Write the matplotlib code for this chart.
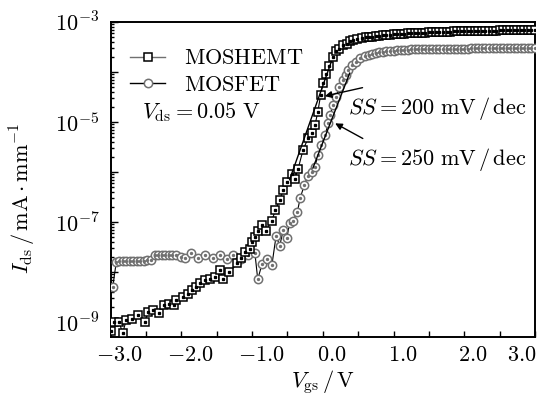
import numpy as np
import matplotlib
matplotlib.use("Agg")
import matplotlib.pyplot as plt
from matplotlib.lines import Line2D
from matplotlib.ticker import FixedLocator, FixedFormatter, LogLocator, NullFormatter
from matplotlib.transforms import ScaledTranslation

plt.rcParams['mathtext.fontset'] = 'cm'
plt.rcParams['font.family'] = 'serif'
plt.rcParams['font.serif'] = ['cmr10', 'DejaVu Serif']
plt.rcParams['axes.unicode_minus'] = False

# --- data ---
# shared saturation sweep (V)
sat_v = [0.65, 0.70, 0.75, 0.80, 0.85, 0.90, 0.95, 1.00, 1.05, 1.10, 1.15, 1.20,
         1.25, 1.30, 1.35, 1.40, 1.45, 1.50, 1.55, 1.60, 1.65, 1.70, 1.75, 1.80,
         1.85, 1.90, 1.95, 2.00, 2.05, 2.10, 2.15, 2.20, 2.25, 2.30, 2.35, 2.40,
         2.45, 2.50, 2.55, 2.60, 2.65, 2.70, 2.75, 2.80, 2.85, 2.90, 2.95, 3.00]

# MOSHEMT
hemt_v = [-2.99, -2.95, -2.88, -2.83, -2.78, -2.70, -2.62, -2.52, -2.47, -2.40,
          -2.32, -2.24, -2.17, -2.10, -2.07, -1.98, -1.91, -1.85, -1.80, -1.74,
          -1.67, -1.60, -1.53, -1.46, -1.41, -1.32, -1.21, -1.15, -1.10, -1.03,
          -1.00, -0.96, -0.91, -0.86, -0.81, -0.72, -0.67, -0.61, -0.56, -0.50,
          -0.44, -0.40, -0.35, -0.28, -0.21, -0.16, -0.11, -0.07, -0.03, 0.00,
          0.05, 0.09, 0.14, 0.18, 0.23, 0.29, 0.34, 0.38, 0.43, 0.49, 0.55, 0.61]
hemt_i = [6.5e-10, 1.0e-9, 9.8e-10, 6.0e-10, 1.1e-9, 1.17e-9, 1.38e-9, 1.02e-9, 1.55e-9, 1.74e-9,
          1.48e-9, 2.19e-9, 2.29e-9, 2.19e-9, 2.75e-9, 3.1e-9, 3.7e-9, 4.4e-9, 5.1e-9, 5.9e-9,
          6.9e-9, 7.4e-9, 8.1e-9, 1.1e-8, 7.4e-9, 1.0e-8, 1.48e-8, 1.95e-8, 2.57e-8, 2.95e-8,
          3.9e-8, 5.1e-8, 6.6e-8, 8.9e-8, 6.6e-8, 1.07e-7, 1.74e-7, 2.8e-7, 4.3e-7, 6.3e-7,
          9.3e-7, 7.2e-7, 1.15e-6, 2.75e-6, 4.7e-6, 5.9e-6, 8.7e-6, 1.62e-5, 3.5e-5, 5.9e-5,
          9.3e-5, 1.29e-4, 1.95e-4, 2.57e-4, 2.95e-4, 3.5e-4, 3.7e-4, 4.1e-4, 4.35e-4, 4.6e-4, 4.8e-4, 4.9e-4]
hemt_sat = [5.00e-4, 5.10e-4, 5.20e-4, 5.30e-4, 5.40e-4, 5.48e-4, 5.56e-4, 5.63e-4, 5.70e-4, 5.77e-4,
            5.83e-4, 5.89e-4, 5.95e-4, 6.00e-4, 6.05e-4, 6.10e-4, 6.15e-4, 6.20e-4, 6.24e-4, 6.28e-4,
            6.32e-4, 6.36e-4, 6.40e-4, 6.43e-4, 6.46e-4, 6.49e-4, 6.52e-4, 6.55e-4, 6.58e-4, 6.61e-4,
            6.63e-4, 6.65e-4, 6.67e-4, 6.69e-4, 6.71e-4, 6.73e-4, 6.75e-4, 6.77e-4, 6.79e-4, 6.81e-4,
            6.83e-4, 6.85e-4, 6.87e-4, 6.89e-4, 6.91e-4, 6.93e-4, 6.94e-4, 6.95e-4]

# MOSFET
fet_v = [-2.97, -2.92, -2.88, -2.83, -2.78, -2.73, -2.68, -2.63, -2.58, -2.53,
         -2.48, -2.43, -2.38, -2.33, -2.28, -2.23, -2.18, -2.13, -2.08, -2.00,
         -1.95, -1.86, -1.77, -1.67, -1.55, -1.46, -1.36, -1.27, -1.15, -1.06,
         -0.96, -0.92, -0.86, -0.79, -0.72, -0.66, -0.61, -0.56, -0.51, -0.47,
         -0.42, -0.36, -0.32, -0.26, -0.21, -0.16, -0.11, -0.07, -0.02, 0.03,
         0.08, 0.10, 0.15, 0.19, 0.23, 0.28, 0.33, 0.36, 0.41, 0.47, 0.52, 0.59]
fet_i = [5.1e-9, 1.62e-8, 1.64e-8, 1.66e-8, 1.66e-8, 1.68e-8, 1.66e-8, 1.67e-8, 1.68e-8, 1.69e-8,
         1.70e-8, 1.72e-8, 2.15e-8, 2.19e-8, 2.21e-8, 2.20e-8, 2.22e-8, 2.19e-8, 2.18e-8, 2.04e-8,
         1.87e-8, 2.44e-8, 1.87e-8, 2.19e-8, 1.87e-8, 2.19e-8, 1.79e-8, 2.19e-8, 1.79e-8, 2.19e-8,
         2.36e-8, 7.1e-9, 1.45e-8, 1.79e-8, 1.38e-8, 5.37e-8, 3.31e-8, 6.9e-8, 4.7e-8, 9.4e-8,
         1.07e-7, 1.6e-7, 3.0e-7, 5.6e-7, 8.3e-7, 1.0e-6, 1.28e-6, 2.2e-6, 3.5e-6, 5.5e-6,
         9.4e-6, 1.38e-5, 2.19e-5, 3.2e-5, 4.9e-5, 6.9e-5, 8.7e-5, 1.1e-4, 1.38e-4, 1.6e-4, 1.9e-4, 2.1e-4]
fet_sat = [2.20e-4, 2.30e-4, 2.39e-4, 2.47e-4, 2.54e-4, 2.60e-4, 2.65e-4, 2.69e-4, 2.73e-4, 2.76e-4,
           2.79e-4, 2.81e-4, 2.83e-4, 2.85e-4, 2.86e-4, 2.87e-4, 2.88e-4, 2.89e-4, 2.90e-4, 2.91e-4,
           2.92e-4, 2.92e-4, 2.93e-4, 2.93e-4, 2.94e-4, 2.94e-4, 2.95e-4, 2.95e-4, 2.95e-4, 2.96e-4,
           2.96e-4, 2.96e-4, 2.97e-4, 2.97e-4, 2.97e-4, 2.97e-4, 2.98e-4, 2.98e-4, 2.98e-4, 2.98e-4,
           2.99e-4, 2.99e-4, 2.99e-4, 2.99e-4, 3.00e-4, 3.00e-4, 3.00e-4, 3.00e-4]

# subthreshold fit lines (V, I end points)
fit_hemt_v = [-0.47, 0.12]
fit_hemt_i = [7.0e-7, 1.6e-4]
fit_fet_v = [-0.14, 0.38]
fit_fet_i = [1.2e-6, 9.5e-5]

x_ticks = [-3.0, -2.0, -1.0, 0.0, 1.0, 2.0, 3.0]
x_ticklabels = [r"$-3.0$", r"$-2.0$", r"$-1.0$", r"$0.0$", r"$1.0$", r"$2.0$", r"$3.0$"]
y_ticks = [1e-9, 1e-8, 1e-7, 1e-6, 1e-5, 1e-4, 1e-3]
y_ticklabels = [r"$10^{-9}$", "", r"$10^{-7}$", "", r"$10^{-5}$", "", r"$10^{-3}$"]

gray = "#707070"
fs = 16

fig = plt.figure(figsize=(5.42, 3.97), dpi=100)
ax = fig.add_axes([0.2042, 0.1511, 0.7828, 0.7935])

v_fet = fet_v + sat_v
i_fet = fet_i + fet_sat
v_hemt = hemt_v + sat_v
i_hemt = hemt_i + hemt_sat

# MOSFET (gray circles with a dot)
ax.semilogy(v_fet, i_fet, color="black", lw=0.8, zorder=2)
ax.semilogy(v_fet, i_fet, ls="none", marker="o", ms=6, mfc="white", mec=gray, mew=1.1, zorder=3)
ax.semilogy(v_fet, i_fet, ls="none", marker="o", ms=1.4, mfc=gray, mec=gray, zorder=3)

# MOSHEMT (black squares with a dot)
ax.semilogy(v_hemt, i_hemt, color="black", lw=0.8, zorder=4)
ax.semilogy(v_hemt, i_hemt, ls="none", marker="s", ms=5.2, mfc="white", mec="black", mew=1.1, zorder=5)
ax.semilogy(v_hemt, i_hemt, ls="none", marker="s", ms=1.4, mfc="black", mec="black", zorder=5)

# fit lines
ax.semilogy(fit_hemt_v, fit_hemt_i, color="black", lw=1.0, zorder=6)
ax.semilogy(fit_fet_v, fit_fet_i, color="black", lw=1.0, zorder=6)

# SS annotations
ax.annotate("", xy=(-0.01, 3.2e-5), xytext=(0.6, 5.0e-5),
            arrowprops=dict(arrowstyle="-|>", color="black", lw=1.0, mutation_scale=10), zorder=7)
ax.annotate("", xy=(0.14, 1.0e-5), xytext=(0.6, 4.4e-6),
            arrowprops=dict(arrowstyle="-|>", color="black", lw=1.0, mutation_scale=10), zorder=7)
ax.text(0.35, 1.9e-5, r"$SS = 200\ \mathrm{mV}\,/\,\mathrm{dec}$", fontsize=fs, va="center", ha="left")
ax.text(0.35, 1.8e-6, r"$SS = 250\ \mathrm{mV}\,/\,\mathrm{dec}$", fontsize=fs, va="center", ha="left")

ax.text(0.073, 0.715, r"$V_{\mathrm{ds}} = 0.05\ \mathrm{V}$", transform=ax.transAxes,
        fontsize=fs, va="center", ha="left")

# legend
h1 = Line2D([], [], color=gray, lw=1.0, marker="s", ms=5.2, mfc="white", mec="black", mew=1.1)
h2 = Line2D([], [], color="black", lw=1.0, marker="o", ms=6, mfc="white", mec=gray, mew=1.1)
ax.legend([h1, h2], [r"$\mathrm{MOSHEMT}$", r"$\mathrm{MOSFET}$"], loc="upper left",
          bbox_to_anchor=(0.045, 0.915), frameon=False, fontsize=fs, handlelength=1.6,
          handletextpad=0.85, labelspacing=0.3, borderpad=0, borderaxespad=0)

ax.set_xlim(-3.0, 3.0)
ax.set_ylim(10 ** -9.3, 1e-3)

ax.xaxis.set_major_locator(FixedLocator(x_ticks))
ax.xaxis.set_major_formatter(FixedFormatter(x_ticklabels))
ax.xaxis.set_minor_locator(FixedLocator([-2.5, -1.5, -0.5, 0.5, 1.5, 2.5]))
ax.yaxis.set_major_locator(FixedLocator(y_ticks))
ax.yaxis.set_major_formatter(FixedFormatter(y_ticklabels))
ax.yaxis.set_minor_locator(LogLocator(base=10, subs=np.arange(2, 10)))
ax.yaxis.set_minor_formatter(NullFormatter())

ax.tick_params(axis="both", which="both", direction="in", top=False, right=False,
               labelsize=fs, width=1.0)
ax.tick_params(axis="x", which="both", length=4, pad=6)
ax.tick_params(axis="y", which="major", length=5, pad=8)
ax.tick_params(axis="y", which="minor", length=2.5)
for s in ax.spines.values():
    s.set_linewidth(1.4)

# x tick labels sit a little right of their ticks in the reference; last one pulled in
xlabels = ax.get_xticklabels()
for k, lab in enumerate(xlabels):
    dx = -0.13 if k == len(xlabels) - 1 else 0.09
    lab.set_transform(lab.get_transform() + ScaledTranslation(dx, 0, fig.dpi_scale_trans))

ax.set_xlabel(r"$V_{\mathrm{gs}}\,/\,\mathrm{V}$", fontsize=fs, labelpad=2)
ax.set_ylabel(r"$I_{\mathrm{ds}}\,/\,\mathrm{mA}\cdot\mathrm{mm}^{-1}$", fontsize=fs)
ax.yaxis.set_label_coords(-0.172, 0.44)

fig.savefig("out.png", dpi=100)
